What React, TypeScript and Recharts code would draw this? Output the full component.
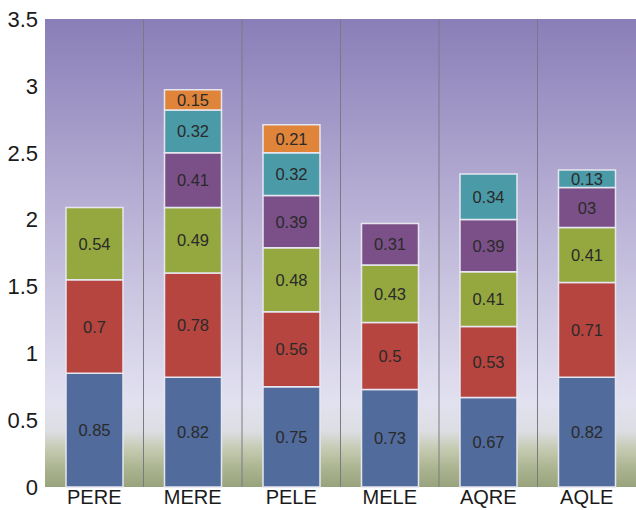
import React from 'react';
import { BarChart, Bar, XAxis, YAxis, CartesianGrid, LabelList } from 'recharts';

// ─── Data ─────────────────────────────────────────────────────────────────────

const categories = ['PERE', 'MERE', 'PELE', 'MELE', 'AQRE', 'AQLE'];

const seriesBlue   = [0.85, 0.82, 0.75, 0.73, 0.67, 0.82];
const seriesRed    = [0.7, 0.78, 0.56, 0.5, 0.53, 0.71];
const seriesGreen  = [0.54, 0.49, 0.48, 0.43, 0.41, 0.41];
const seriesPurple = [null, 0.41, 0.39, 0.31, 0.39, 0.3];
const seriesTeal   = [null, 0.32, 0.32, null, 0.34, 0.13];
const seriesOrange = [null, 0.15, 0.21, null, null, null];

// The source prints "03" on the AQLE purple segment
const purpleText = ['', '0.41', '0.39', '0.31', '0.39', '03'];

const yTicks = [0, 0.5, 1, 1.5, 2, 2.5, 3, 3.5];

const SERIES = [
  { key: 's1', values: seriesBlue,   color: '#506b9c' },
  { key: 's2', values: seriesRed,    color: '#b6443f' },
  { key: 's3', values: seriesGreen,  color: '#95a83f' },
  { key: 's4', values: seriesPurple, color: '#7b5088', text: purpleText },
  { key: 's5', values: seriesTeal,   color: '#4b9aa8' },
  { key: 's6', values: seriesOrange, color: '#e0843a' },
];

const chartData = categories.map((name, i) => {
  const row: Record<string, string | number | null> = { name };
  SERIES.forEach((s) => {
    row[s.key] = s.values[i];
    row[s.key + 'Text'] = s.text ? s.text[i] : s.values[i] == null ? '' : String(s.values[i]);
  });
  return row;
});

const FONT = '"Liberation Sans", Arial, sans-serif';

// ─── Chart ────────────────────────────────────────────────────────────────────

export default function App() {
  return (
    <div style={{ position: 'absolute', left: 0, top: 0, width: 636, height: 510, background: '#fff' }}>
      <BarChart
        width={636}
        height={510}
        data={chartData}
        margin={{ top: 19, right: 0, bottom: 0, left: 0 }}
        barSize={57}
      >
        <defs>
          <linearGradient id="bg" x1="0" y1="0" x2="0" y2="1">
            <stop offset="0%" stopColor="#8a7eb8" />
            <stop offset="45%" stopColor="#bdb6d8" />
            <stop offset="82%" stopColor="#e2e1f0" />
            <stop offset="88%" stopColor="#dcdee3" />
            <stop offset="92%" stopColor="#c4cab0" />
            <stop offset="96%" stopColor="#abb490" />
            <stop offset="100%" stopColor="#98a37c" />
          </linearGradient>
        </defs>

        <CartesianGrid
          fill="url(#bg)"
          horizontal={false}
          stroke="#7a7a84"
          strokeWidth={1}
          verticalCoordinatesGenerator={({ offset }: any) =>
            categories.slice(1).map((_, i) => offset.left + ((i + 1) * offset.width) / categories.length)
          }
        />

        <XAxis
          dataKey="name"
          axisLine={false}
          tickLine={false}
          height={23}
          tickSize={1}
          tick={{ fill: '#1a1a1a', fontSize: 20, fontFamily: FONT }}
        />

        <YAxis
          domain={[0, 3.5]}
          ticks={yTicks}
          axisLine={false}
          tickLine={false}
          width={45}
          tickSize={5}
          tickMargin={2}
          tick={{ fill: '#1a1a1a', fontSize: 22, fontFamily: FONT }}
        />

        {SERIES.map((s) => (
          <Bar
            key={s.key}
            dataKey={s.key}
            stackId="a"
            fill={s.color}
            stroke="#e6e6f0"
            strokeWidth={1.5}
            isAnimationActive={false}
          >
            <LabelList
              dataKey={s.key + 'Text'}
              content={(p: any) => {
                const { x, y, width, height, value } = p;
                if (value == null || value === '') return null;
                return (
                  <text
                    x={x + width / 2}
                    y={y + height / 2}
                    textAnchor="middle"
                    dominantBaseline="central"
                    fill="#2a2a2a"
                    fontSize={16.5}
                    fontFamily={FONT}
                  >
                    {value}
                  </text>
                );
              }}
            />
          </Bar>
        ))}
      </BarChart>
    </div>
  );
}
